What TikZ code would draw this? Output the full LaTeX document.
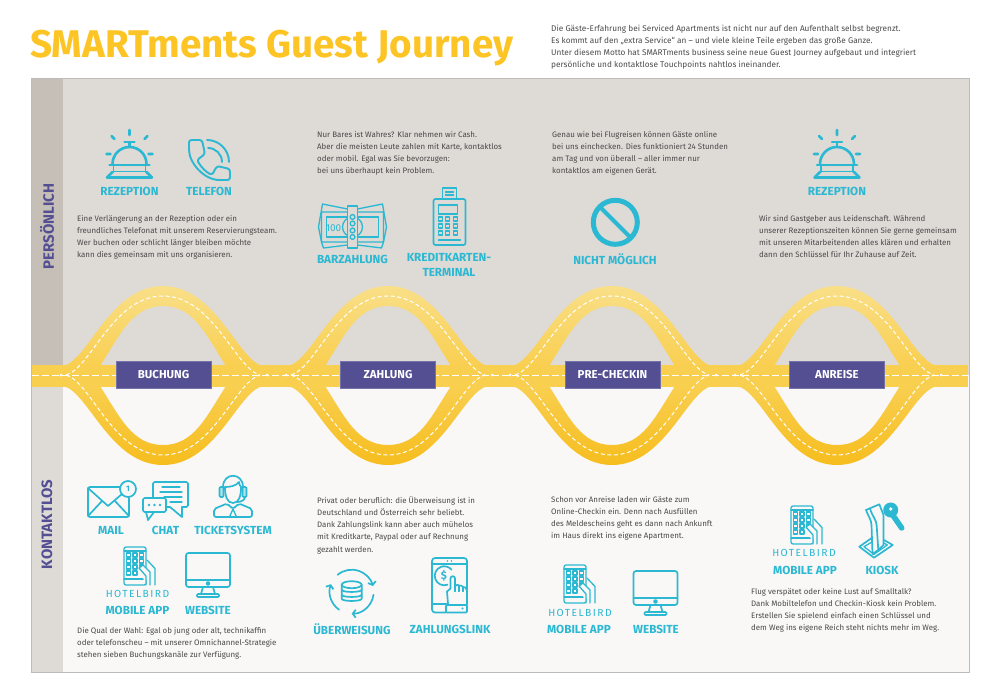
\documentclass[tikz,border=0pt]{standalone}
\usepackage{fontspec}
\setmainfont{Fira Sans}
\newfontfamily\logofont[LetterSpace=14]{Fira Sans}
\usetikzlibrary{arrows.meta}
\definecolor{upperpanel}{HTML}{DEDAD6}
\definecolor{upperstrip}{HTML}{C6BFB7}
\definecolor{lowerpanel}{HTML}{FAF8F7}
\definecolor{lowerstrip}{HTML}{DEDAD6}
\definecolor{panelline}{HTML}{BDBCBA}
\definecolor{roadtop}{HTML}{F9DF88}
\definecolor{roadmid}{HTML}{F9CF50}
\definecolor{roadlow}{HTML}{F6BD1E}
\definecolor{stagebox}{HTML}{534F92}
\definecolor{iconblue}{HTML}{2BB8D2}
\definecolor{titleyellow}{HTML}{FCC425}
\definecolor{bodygray}{HTML}{4A4A4A}
\tikzset{
  bodytext/.style={anchor=north west,inner sep=0pt,align=left,text=bodygray,font=\fontsize{7.9}{12.2}\selectfont},
  introtext/.style={bodytext,font=\fontsize{8.25}{12}\selectfont},
  iconlabel/.style={inner sep=0pt,align=center,text=iconblue,font=\fontsize{11.7}{14.4}\selectfont\bfseries},
  stagelabel/.style={fill=stagebox,draw=stagebox!80!white,line width=0.5pt,minimum width=95pt,minimum height=27pt,inner sep=0pt,text=white,font=\fontsize{11.5}{13}\selectfont\bfseries},
  sidelabel/.style={rotate=90,inner sep=0pt,text=stagebox,font=\fontsize{15}{18}\selectfont\bfseries},
  hotellogo/.style={inner sep=0pt,text=iconblue,font=\fontsize{10.3}{11}\logofont},
  iconline/.style={draw=iconblue,line width=1.7pt,line cap=round,line join=round},
  thinline/.style={iconline,line width=1.3pt},
  centerdash/.style={draw=white,line width=1pt,dash pattern=on 4pt off 2.6pt},
  pics/bell/.style={code={
    \draw[iconline,line width=2.6pt] (0,-25)--(0,-20) (-18,-19)--(-15,-16) (18,-19)--(15,-16) (-23,-1)--(-19,-1) (23,-1)--(19,-1);
    \draw[iconline,line width=2.2pt] (-5,-13)--(5,-13) (0,-13)--(0,-8);
    \draw[iconline,line width=2.6pt] (-17,9) arc[start angle=180,end angle=0,radius=17pt];
    \draw[iconline,line width=2.6pt] (-20,10)--(20,10);
    \draw[iconline] (-16,10)--(-16,17) (16,10)--(16,17);
    \draw[iconline] (-17,16.5)--(17,16.5);
    \draw[iconline,line width=2.6pt] (-17,17)--(-22.5,22.5)--(22.5,22.5)--(17,17);
  }},
  pics/handset/.style={code={
    \draw[iconline,line width=1.9pt,rounded corners=2.5pt] (-20,-20)--(-7,-20)--(-4,-6)--(-12,0) .. controls (-8,7) and (-3,12) .. (3,15)--(8,6)--(21,9)--(21,20)--(13,20) .. controls (-5,20) and (-20,3) .. (-20,-13)--cycle;
    \draw[iconline,line width=1.9pt] (-2,-20) arc[start angle=90,end angle=0,radius=22pt];
    \draw[iconline,line width=1.9pt] (-1,-12) arc[start angle=90,end angle=0,radius=14pt];
  }},
  pics/banknotes/.style={code={
    \draw[thinline] (-5,-18)--(-30,-23)--(-34,0)--(-31,15) (5,-18)--(30,-23)--(34,0)--(31,15) (-5,18)--(-29,21)--(-31,15) (5,18)--(29,21)--(31,15);
    \draw[thinline,rounded corners=1pt] (-31,-15) rectangle (31,15);
    \draw[thinline] (-26,-10) rectangle (26,10);
    \draw[thinline] (0,0) circle[radius=10pt];
    \draw[thinline,fill=upperpanel] (-5,-21) rectangle (5,21);
    \foreach \dy in {-10,-3.5,3.5,10}
      \draw[thinline,fill=upperpanel] (0,\dy) circle[radius=2.4pt];
    \node[inner sep=0pt,text=iconblue,font=\fontsize{10}{12}\selectfont] (hundred) at (-19,1) {100};
  }},
  pics/terminal/.style={code={
    \draw[thinline] (-7,-20)--(-7,-30)--(7,-30)--(7,-20) (-4,-26)--(4,-26) (-4,-23)--(4,-23);
    \draw[iconline,rounded corners=2pt] (-16,-19) rectangle (16,27);
    \draw[thinline] (-11,-13) rectangle (8,-4);
    \foreach \bx in {-9,-2,6}
      \foreach \by in {1,8,15}
        \draw[thinline] (\bx-2,\by-2) rectangle (\bx+2,\by+2);
    \draw[thinline] (-11,22)--(11,22);
  }},
  pics/noentry/.style={code={
    \draw[iconline,line width=5pt] (0,0) circle[radius=22pt];
    \draw[iconline,line width=4pt,line cap=butt] (-15.5,-15.5)--(15.5,15.5);
  }},
  pics/envelope/.style={code={
    \draw[iconline,rounded corners=2pt] (-20,-15) rectangle (21,15);
    \draw[iconline] (-20,-14)--(0,4)--(21,-14) (-20,14)--(-6,-1) (21,14)--(7,-1);
    \draw[iconline,fill=lowerpanel] (20,-13) circle[radius=8pt];
    \node[inner sep=0pt,text=iconblue,font=\fontsize{8}{9}\selectfont\bfseries] (count) at (20,-13) {1};
  }},
  pics/chatbubbles/.style={code={
    \draw[iconline,rounded corners=1.5pt] (-12,-2)--(-12,-18)--(23,-18)--(23,7)--(17,7);
    \draw[iconline] (17,7)--(17,17)--(5,7)--(2,7);
    \draw[thinline] (-3,-13)--(15,-13) (-5,-8)--(17,-8) (-1,-3)--(17,-3) (5,2)--(17,2);
    \draw[iconline,rounded corners=1.5pt] (-22,-2) rectangle (1,12);
    \draw[iconline] (-19,12)--(-17,20)--(-11,12);
    \foreach \cx in {-16,-10.5,-5}
      \fill[iconblue] (\cx,5) circle[radius=1.3pt];
  }},
  pics/agent/.style={code={
    \draw[iconline] (-8,-13) .. controls (-8,-4) and (-6,3) .. (0,3) .. controls (6,3) and (8,-4) .. (8,-13);
    \draw[iconline] (-8,-13) .. controls (-3,-13) and (3,-14) .. (6,-18) .. controls (6,-16) and (7,-14) .. (8,-13);
    \draw[iconline] (-10,-13) .. controls (-10,-28) and (10,-28) .. (10,-13);
    \draw[iconline,fill=iconblue!35!lowerpanel,rounded corners=1pt] (-13.5,-13) rectangle (-9.5,-3) (9.5,-13) rectangle (13.5,-3);
    \draw[iconline] (12,-3) .. controls (12,0) and (8,2) .. (4.5,2);
    \draw[iconline,rounded corners=2pt] (-19,17)--(-19,9)--(-6,3.5)--(0,9)--(6,3.5)--(19,9)--(19,17)--cycle;
    \draw[thinline] (0,9)--(-3.5,17) (0,9)--(3.5,17);
  }},
  pics/phonehand/.style={code={
    \draw[thinline,rounded corners=2pt] (-11,-19) rectangle (11,19);
    \draw[thinline] (-11,-15)--(11,-15) (-11,13)--(11,13);
    \foreach \gx in {-6.5,0,6.5}
      \foreach \gy in {-11,-5,1}
        \draw[thinline] (\gx-1.9,\gy-1.9) rectangle (\gx+1.9,\gy+1.9);
    \foreach \gx in {-6.5,0}
      \draw[thinline] (\gx-1.9,5.1) rectangle (\gx+1.9,8.9);
    \draw[thinline] (12,-6)--(20,2.5)--(20,19);
    \draw[thinline,fill=lowerpanel] (4,2)--(8,-1)--(15,6)--(15,19) (4,2)--(11,10)--(11,19);
  }},
  pics/monitor/.style={code={
    \draw[iconline,rounded corners=2.5pt] (-22,-22) rectangle (22,12);
    \draw[iconline] (-22,5)--(22,5);
    \draw[iconline] (0,8.5) circle[radius=1.6pt];
    \draw[iconline] (-5,12)--(-7,19) (5,12)--(7,19);
    \draw[iconline,rounded corners=1pt] (-11,19) rectangle (11,22);
  }},
  pics/transfer/.style={code={
    \draw[iconline,-{Straight Barb[length=3pt,width=8pt]}] (130:22pt) arc[start angle=130,end angle=15,radius=22pt];
    \draw[iconline,-{Straight Barb[length=3pt,width=8pt]}] (-8:22pt) arc[start angle=-8,end angle=-90,radius=22pt];
    \draw[iconline,-{Straight Barb[length=3pt,width=8pt]}] (-125:22pt) arc[start angle=-125,end angle=-200,radius=22pt];
    \draw[iconline] (0,-7) ellipse[x radius=10pt,y radius=3.5pt];
    \draw[iconline] (-10,-7)--(-10,7) .. controls (-10,10) and (10,10) .. (10,7)--(10,-7);
    \draw[iconline] (-10,-2) .. controls (-10,1) and (10,1) .. (10,-2) (-10,3) .. controls (-10,6) and (10,6) .. (10,3);
  }},
  pics/paylink/.style={code={
    \draw[iconline,rounded corners=3pt] (-3.5,27)--(-17.5,27)--(-17.5,-27.5)--(17.5,-27.5)--(17.5,5);
    \draw[iconline] (-17.5,-21.5)--(17.5,-21.5) (-17.5,18.5)--(-3,18.5);
    \draw[iconline] (-2,-0.8) arc[start angle=-70,end angle=-320,radius=9.5pt];
    \node[inner sep=0pt,text=iconblue,font=\fontsize{11}{12}\selectfont\bfseries] (dollar) at (-5.5,-9.5) {\$};
    \draw[iconline] (-1.5,18.5)--(-2.5,6)--(1,3)--(1,-7) .. controls (1,-10) and (5.5,-10) .. (5.5,-7)--(5.5,0.5) .. controls (7,-1) and (9,-1) .. (9.5,0) .. controls (11,0) and (13,0) .. (13.5,1.5) .. controls (15,1.5) and (17.5,2) .. (17.5,5)--(17.5,19);
    \draw[thinline] (5.5,0.5)--(5.5,6) (9.5,0)--(9.5,6) (13.5,1.5)--(13.5,6);
    \draw[iconline,rounded corners=1pt] (-3.5,19.5) rectangle (17.5,27);
    \fill[iconblue] (13,23) circle[radius=1.1pt] (-2,-24.5) circle[radius=0.8pt] (2,-24.5) circle[radius=0.8pt];
  }},
  pics/kiosk/.style={code={
    \draw[iconline] (-11,-20)--(2.3,-25.7)--(6.5,-15)--(6.5,15);
    \draw[iconline] (-11,-20) .. controls (-9,-14) and (-5.5,-10) .. (-5.5,-5)--(-4.5,24)--(1.3,20);
    \draw[iconline] (-7,-21.5) .. controls (-5,-14) and (-0.3,-10) .. (-0.3,-4)--(1.3,20)--(6.5,15);
    \draw[iconline] (-5.3,8)--(-17.7,16.7)--(-3,27.7)--(15.7,15)--(7,10);
    \draw[thinline] (-5,12)--(-13,16.7)--(-3,24.3)--(10.3,15)--(7,13);
    \fill[iconblue] (13.7,-20) circle[radius=7.5pt];
    \draw[iconline,line width=5.5pt] (15,-16)--(24.7,-2);
    \fill[lowerpanel] (13.7,-21) circle[radius=1.8pt];
  }},
}
\begin{document}
\begin{tikzpicture}[x=1pt,y=-1pt]
  \useasboundingbox (0,0) rectangle (1000,692);

  \fill[upperpanel] (31,78) rectangle (969,375);
  \fill[lowerpanel] (31,375) rectangle (969,672);
  \fill[upperstrip] (31,78) rectangle (63,375);
  \fill[lowerstrip] (31,375) rectangle (63,672);
  \draw[panelline,line width=0.9pt] (31,78) rectangle (969,672);

  \fill[roadmid] (32,365) rectangle (968,387);
  \foreach \hx in {163,388,612,837} {
    \begin{scope}[xshift=\hx pt]
      \shade[top color=roadtop,bottom color=roadmid] (-100,366) .. controls (-75,361) and (-53,286) .. (0,286) .. controls (53,286) and (75,361) .. (100,366) -- (63,366) .. controls (43,335) and (31,306) .. (0,306) .. controls (-31,306) and (-43,335) .. (-63,366) -- cycle;
      \shade[top color=roadmid,bottom color=roadlow] (-100,386) .. controls (-75,391) and (-53,465) .. (0,465) .. controls (53,465) and (75,391) .. (100,386) -- (63,386) .. controls (43,417) and (31,445) .. (0,445) .. controls (-31,445) and (-43,417) .. (-63,386) -- cycle;
      \draw[centerdash] (-97,375) .. controls (-72,368) and (-50,296) .. (0,296) .. controls (50,296) and (72,368) .. (97,375);
      \draw[centerdash] (-97,375) .. controls (-72,382) and (-50,455) .. (0,455) .. controls (50,455) and (72,382) .. (97,375);
      \fill[white] (-102,375) circle[radius=1.5pt] (104,375) circle[radius=1.5pt];
    \end{scope}
  }
  \draw[white,line width=1pt,dash pattern=on 7pt off 3pt] (32,375) -- (968,375);

  \node[stagelabel] (buchung) at (163.5,375) {BUCHUNG};
  \node[stagelabel] (zahlung) at (388,375) {ZAHLUNG};
  \node[stagelabel] (precheckin) at (612.5,375) {PRE-CHECKIN};
  \node[stagelabel] (anreise) at (837,375) {ANREISE};

  \node[sidelabel] (persoenlich) at (47,226.5) {PERSÖNLICH};
  \node[sidelabel] (kontaktlos) at (47,524.5) {KONTAKTLOS};

  \node[anchor=base west,inner sep=0pt,text=titleyellow,font=\fontsize{38.6}{39}\selectfont\bfseries] (title) at (30,57.5) {SMARTments Guest Journey};
  \node[introtext] (intro) at (551,25) {Die Gäste-Erfahrung bei Serviced Apartments ist nicht nur auf den Aufenthalt selbst begrenzt.\\Es kommt auf den „extra Service“ an – und viele kleine Teile ergeben das große Ganze.\\Unter diesem Motto hat SMARTments business seine neue Guest Journey aufgebaut und integriert\\persönliche und kontaktlose Touchpoints nahtlos ineinander.};

  \pic (bellone) at (129.5,155) {bell};
  \pic (handsetone) at (209,160) {handset};
  \node[iconlabel] (rezeptionone) at (129.5,191.3) {REZEPTION};
  \node[iconlabel] (telefon) at (209,191.3) {TELEFON};
  \node[bodytext] (buchungup) at (77,215) {Eine Verlängerung an der Rezeption oder ein\\freundliches Telefonat mit unserem Reservierungsteam.\\Wer buchen oder schlicht länger bleiben möchte\\kann dies gemeinsam mit uns organisieren.};

  \node[bodytext] (zahlungup) at (317,131) {Nur Bares ist Wahres? Klar nehmen wir Cash.\\Aber die meisten Leute zahlen mit Karte, kontaktlos\\oder mobil. Egal was Sie bevorzugen:\\bei uns überhaupt kein Problem.};
  \pic (cash) at (352.5,227) {banknotes};
  \pic (cardterminal) at (449.5,218) {terminal};
  \node[iconlabel] (barzahlung) at (352.5,259) {BARZAHLUNG};
  \node[iconlabel,anchor=north] (kreditkarten) at (449,253.5) {KREDITKARTEN-\\TERMINAL};

  \node[bodytext] (checkinup) at (552,131) {Genau wie bei Flugreisen können Gäste online\\bei uns einchecken. Dies funktioniert 24 Stunden\\am Tag und von überall – aller immer nur\\kontaktlos am eigenen Gerät.};
  \pic (forbidden) at (615.3,222.3) {noentry};
  \node[iconlabel] (nichtmoeglich) at (615,259) {NICHT MÖGLICH};

  \pic (belltwo) at (837,155) {bell};
  \node[iconlabel] (rezeptiontwo) at (837,191.3) {REZEPTION};
  \node[bodytext] (anreiseup) at (759,215) {Wir sind Gastgeber aus Leidenschaft. Während\\unserer Rezeptionszeiten können Sie gerne gemeinsam\\mit unseren Mitarbeitenden alles klären und erhalten\\dann den Schlüssel für Ihr Zuhause auf Zeit.};

  \pic (mailicon) at (108,502) {envelope};
  \pic (chaticon) at (165,500) {chatbubbles};
  \pic (ticketicon) at (233,500) {agent};
  \node[iconlabel] (mail) at (111,530) {MAIL};
  \node[iconlabel] (chat) at (165.5,530) {CHAT};
  \node[iconlabel] (ticketsystem) at (233,530) {TICKETSYSTEM};
  \pic (appone) at (135,566) {phonehand};
  \pic (siteone) at (208,575) {monitor};
  \node[hotellogo] (hotelone) at (137.5,593.5) {HOTELBIRD};
  \node[iconlabel] (appa) at (137.5,610) {MOBILE APP};
  \node[iconlabel] (sitea) at (208,610) {WEBSITE};
  \node[bodytext] (buchunglow) at (77,627) {Die Qual der Wahl: Egal ob jung oder alt, technikaffin\\oder telefonscheu – mit unserer Omnichannel-Strategie\\stehen sieben Buchungskanäle zur Verfügung.};

  \node[bodytext] (zahlunglow) at (317,496) {Privat oder beruflich: die Überweisung ist in\\Deutschland und Österreich sehr beliebt.\\Dank Zahlungslink kann aber auch mühelos\\mit Kreditkarte, Paypal oder auf Rechnung\\gezahlt werden.};
  \pic (transfericon) at (351.7,591.7) {transfer};
  \pic (linkicon) at (449.5,585.5) {paylink};
  \node[iconlabel] (ueberweisung) at (352,629) {ÜBERWEISUNG};
  \node[iconlabel] (zahlungslink) at (450,629) {ZAHLUNGSLINK};

  \node[bodytext] (checkinlow) at (551,496) {Schon vor Anreise laden wir Gäste zum\\Online-Checkin ein. Denn nach Ausfüllen\\des Meldescheins geht es dann nach Ankunft\\im Haus direkt ins eigene Apartment.};
  \pic (apptwo) at (575,584) {phonehand};
  \pic (sitetwo) at (655.5,593) {monitor};
  \node[hotellogo] (hoteltwo) at (580,612.5) {HOTELBIRD};
  \node[iconlabel] (appb) at (579,629) {MOBILE APP};
  \node[iconlabel] (siteb) at (656,629) {WEBSITE};

  \pic (appthree) at (802,525) {phonehand};
  \pic (kioskicon) at (877,530) {kiosk};
  \node[hotellogo] (hotelthree) at (804,553) {HOTELBIRD};
  \node[iconlabel] (appc) at (805,570) {MOBILE APP};
  \node[iconlabel] (kiosk) at (882,570) {KIOSK};
  \node[bodytext] (anreiselow) at (751,587.7) {Flug verspätet oder keine Lust auf Smalltalk?\\Dank Mobiltelefon und Checkin-Kiosk kein Problem.\\Erstellen Sie spielend einfach einen Schlüssel und\\dem Weg ins eigene Reich steht nichts mehr im Weg.};
\end{tikzpicture}
\end{document}
